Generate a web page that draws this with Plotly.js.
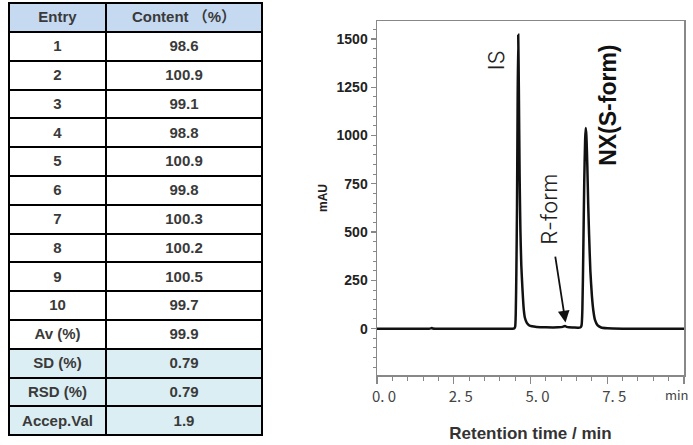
<!DOCTYPE html>
<html>
<head>
<meta charset="utf-8">
<script src="https://cdn.plot.ly/plotly-3.0.1.min.js"></script>
<style>html,body{margin:0;padding:0;background:#fff;} #chart{width:693px;height:445px;}</style>
</head>
<body>
<div id="chart"></div>
<script>
// ---- Table data ----
const tableHeader = ['Entry', 'Content （%）'];
const entryLabels = ['1','2','3','4','5','6','7','8','9','10','Av (%)','SD (%)','RSD (%)','Accep.Val'];
const contentValues = ['98.6','100.9','99.1','98.8','100.9','99.8','100.3','100.2','100.5','99.7','99.9','0.79','0.79','1.9'];
const summaryRows = ['SD (%)','RSD (%)','Accep.Val'];

// ---- Chromatogram data (retention time / min, signal / mAU) ----
const retentionTime = [0, 1.70, 1.76, 1.79, 1.82, 1.90, 4.40, 4.47, 4.50, 4.52, 4.54, 4.56, 4.58, 4.60, 4.62, 4.645, 4.67, 4.70, 4.74, 4.78, 4.82, 4.88, 4.95, 5.05, 5.2, 5.5, 5.9, 6.05, 6.12, 6.18, 6.25, 6.4, 6.55, 6.62, 6.66, 6.69, 6.72, 6.75, 6.78, 6.80, 6.82, 6.85, 6.88, 6.91, 6.95, 7.00, 7.05, 7.10, 7.18, 7.3, 7.5, 8.0, 10.0];
const signalMAU = [0, 0, 2, 3, 1, 0, 0, 1, 10, 80, 300, 620, 1150, 1522, 1250, 800, 520, 330, 200, 100, 55, 30, 18, 12, 9, 7, 7, 9, 14, 9, 7, 6, 5, 6, 15, 100, 400, 750, 980, 1039, 1000, 850, 640, 480, 300, 170, 90, 45, 18, 6, 2, 0, 0];

const xTickVals = [0, 2.5, 5, 7.5, 10];
const xTickText = ['0. 0', '2. 5', '5. 0', '7. 5', ''];
const xUnitLabel = 'min';
const yTickVals = [0, 250, 500, 750, 1000, 1250, 1500];

const W = 693, H = 445;
const headerBlue = '#c5d9f1';
const summaryBlue = '#daeef3';

const rowFill = entryLabels.map(e => summaryRows.includes(e) ? summaryBlue : '#ffffff');

const tableTrace = {
  type: 'table',
  domain: {x: [9 / W, 262 / W], y: [(H - 437) / H, (H - 3) / H]},
  columnwidth: [97, 156],
  header: {
    values: tableHeader,
    align: 'center',
    height: 29,
    fill: {color: headerBlue},
    line: {color: '#000', width: 2},
    font: {family: 'Liberation Sans, Arial, Noto Sans CJK JP', size: 15, color: '#3a3a3a', weight: 'bold'}
  },
  cells: {
    values: [entryLabels, contentValues],
    align: 'center',
    height: 28.8,
    fill: {color: [rowFill, rowFill]},
    line: {color: '#000', width: 2},
    font: {family: 'Liberation Sans, Arial', size: 15, color: '#3a3a3a', weight: 'bold'}
  }
};

const lineTrace = {
  type: 'scatter',
  mode: 'lines',
  x: retentionTime,
  y: signalMAU,
  line: {color: '#111', width: 2.5, shape: 'spline', smoothing: 0.6},
  hoverinfo: 'skip',
  showlegend: false
};

const layout = {
  width: W, height: H,
  margin: {l: 0, r: 0, t: 0, b: 0},
  paper_bgcolor: '#fff', plot_bgcolor: '#fff',
  showlegend: false,
  xaxis: {
    domain: [377 / W, 684 / W],
    range: [0, 10],
    tickvals: xTickVals, ticktext: xTickText,
    ticks: 'outside', ticklen: 7, tickwidth: 1.2, tickcolor: '#888',
    minor: {dtick: 0.5, ticks: 'outside', ticklen: 4, tickwidth: 1, tickcolor: '#888'},
    showline: true, linecolor: '#888', linewidth: 1.5, mirror: true,
    showgrid: false, zeroline: false,
    ticklabelshift: 7,
    tickfont: {family: 'Noto Sans CJK JP, DejaVu Sans', size: 15, color: '#444'},
    title: {text: 'Retention time / min', font: {family: 'Liberation Sans, Arial', size: 17, color: '#333', weight: 'bold'}, standoff: 22},
    automargin: false, fixedrange: true
  },
  yaxis: {
    domain: [(H - 375) / H, (H - 21) / H],
    range: [-240, 1593],
    tickvals: yTickVals,
    ticks: 'outside', ticklen: 5, tickwidth: 1.2, tickcolor: '#888',
    minor: {dtick: 50, ticks: 'outside', ticklen: 3, tickwidth: 1, tickcolor: '#888'},
    showline: true, linecolor: '#888', linewidth: 1.5, mirror: true,
    showgrid: false, zeroline: false,
    tickfont: {family: 'Liberation Sans, Arial', size: 14, color: '#222', weight: 'bold'},
    title: {text: 'mAU', font: {family: 'Liberation Sans, Arial', size: 12, color: '#222', weight: 'bold'}, standoff: 6},
    automargin: false, fixedrange: true
  },
  annotations: [
    {x: 3.88, y: 1391, xref: 'x', yref: 'y', text: 'IS', textangle: -90, showarrow: false,
     font: {family: 'Inter, DejaVu Sans', size: 22, color: '#222', weight: 300}},
    {x: 5.60, y: 620, xref: 'x', yref: 'y', text: 'R-form', textangle: -90, showarrow: false,
     font: {family: 'Inter, DejaVu Sans', size: 22, color: '#222', weight: 300}},
    {x: 7.52, y: 1158, xref: 'x', yref: 'y', text: 'NX(S-form)', textangle: -90, showarrow: false,
     font: {family: 'Liberation Sans, Arial', size: 23, color: '#111', weight: 'bold'}},
    {x: 6.14, y: 32, ax: 5.80, ay: 381, xref: 'x', yref: 'y', axref: 'x', ayref: 'y', text: '',
     showarrow: true, arrowhead: 2, arrowsize: 1.3, arrowwidth: 1.8, arrowcolor: '#111'},
    {x: 664 / W, y: (H - 394) / H, xref: 'paper', yref: 'paper', xanchor: 'left', yanchor: 'middle',
     text: xUnitLabel, showarrow: false, borderpad: 0,
     font: {family: 'Noto Sans CJK JP, DejaVu Sans', size: 13, color: '#444'}}
  ]
};

Plotly.newPlot('chart', [tableTrace, lineTrace], layout, {staticPlot: true, displayModeBar: false});
</script>
</body>
</html>
